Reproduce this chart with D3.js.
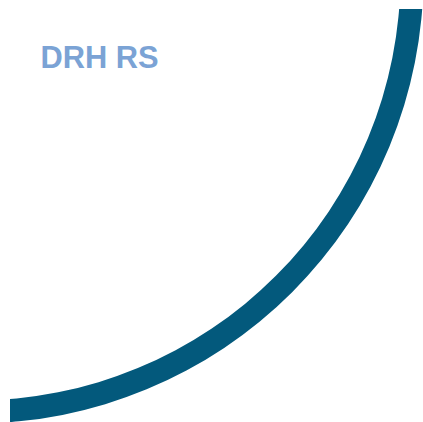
<!DOCTYPE html>
<html><head><meta charset="utf-8">
<script src="https://cdn.jsdelivr.net/npm/d3@7"></script>
<style>html,body{margin:0;padding:0;background:#fff;overflow:hidden}</style>
</head><body>
<svg id="chart" width="423" height="422"></svg>
<script>
const categories = ["DRH RS"];
const values = [90];           // arc sweep in degrees (quarter ring)
const W = 423, H = 422;
const svg = d3.select("#chart");
const angle = d3.scaleLinear().domain([0, 360]).range([0, 2 * Math.PI]);
const cx = -25, cy = -25, rInner = 425.5, rOuter = 448.5;

svg.append("defs").append("clipPath").attr("id", "clip")
  .append("rect").attr("x", 10).attr("y", 9).attr("width", W).attr("height", H);

const arc = d3.arc().innerRadius(rInner).outerRadius(rOuter);
const start = Math.PI / 2;
svg.append("g").attr("clip-path", "url(#clip)")
  .append("g").attr("transform", `translate(${cx},${cy})`)
  .selectAll("path").data(values).join("path")
  .attr("d", d => arc({startAngle: start, endAngle: start + angle(d)}))
  .attr("fill", "#03597c");

svg.append("text").attr("x", 40.5).attr("y", 68)
  .attr("font-family", "Liberation Sans, Arial, sans-serif")
  .attr("font-weight", "bold").attr("font-size", 30.8)
  .attr("fill", "#7ba3d5").text(categories[0]);
</script>
</body></html>
